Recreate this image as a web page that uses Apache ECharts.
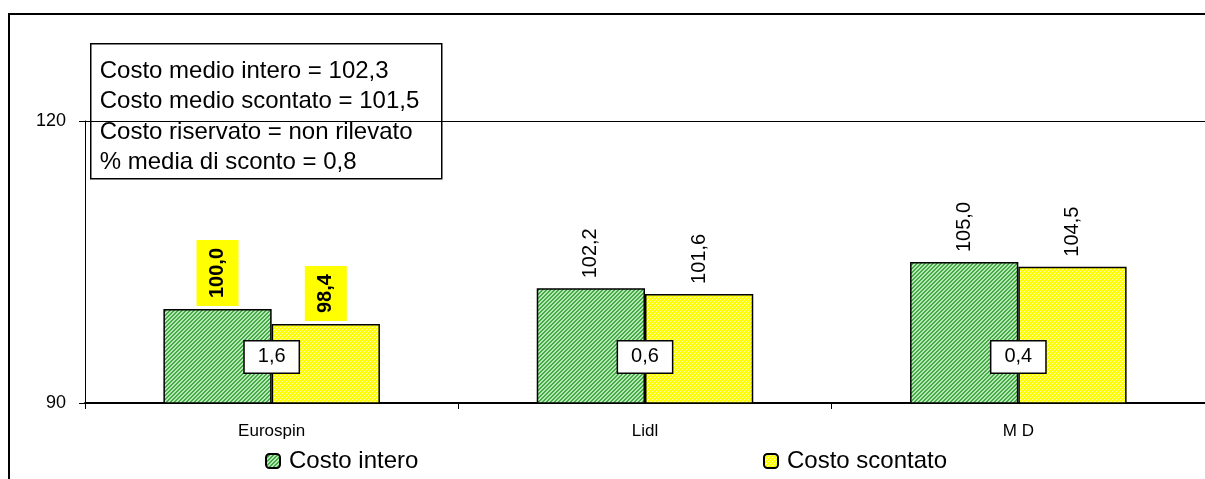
<!DOCTYPE html>
<html>
<head>
<meta charset="utf-8">
<script src="https://cdn.jsdelivr.net/npm/echarts@6/dist/echarts.min.js"></script>
<style>
html,body{margin:0;padding:0;background:#fff;}
#c{width:1205px;height:479px;}
</style>
</head>
<body>
<div id="c"></div>
<script>
// ---- data ----
const categories = ['Eurospin', 'Lidl', 'M D'];
const costoIntero = [100.0, 102.2, 105.0];
const costoScontato = [98.4, 101.6, 104.5];
const scontoPerc = [1.6, 0.6, 0.4];
const highlightIndex = 0; // cheapest store highlighted
const yTicks = [90, 120];
const infoLines = [
  'Costo medio intero = 102,3',
  'Costo medio scontato = 101,5',
  'Costo riservato = non rilevato',
  '% media di sconto = 0,8'
];
const seriesNames = ['Costo intero', 'Costo scontato'];

const FONT = '"Liberation Sans", Arial, sans-serif';
const fmt = v => v.toFixed(1).replace('.', ',');

function makePattern(bg, fg, n) {
  const c = document.createElement('canvas');
  c.width = 4; c.height = 4;
  const ctx = c.getContext('2d');
  ctx.fillStyle = bg; ctx.fillRect(0, 0, 4, 4);
  ctx.fillStyle = fg;
  for (let i = 0; i < 4; i++) {
    for (let k = 0; k < n; k++) ctx.fillRect((3 - i + k + 4) % 4, i, 1, 1);
  }
  return c;
}
const greenPat = { image: makePattern('#b8e8b8', '#44aa44', 2), repeat: 'repeat' };
const yellowPat = { image: makePattern('#ffff00', '#ffffb0', 1), repeat: 'repeat' };

const baseLabel = {
  show: true, position: 'top', rotate: 90, align: 'left', verticalAlign: 'middle',
  distance: 10, fontFamily: FONT, fontSize: 20, color: '#000',
  formatter: p => fmt(p.value)
};
const hlLabel = {
  fontWeight: 'bold', backgroundColor: '#ffff00', padding: [11, 8], distance: 3
};
function buildData(vals) {
  return vals.map((v, i) => i === highlightIndex ? { value: v, label: hlLabel } : v);
}

const chart = echarts.init(document.getElementById('c'), null, { renderer: 'canvas' });
chart.setOption({
  animation: false,
  grid: { left: 85, right: -5, top: 121, bottom: 76 },
  xAxis: {
    type: 'category', data: categories,
    axisLine: { lineStyle: { color: '#000', width: 2 } },
    axisTick: { show: true, length: 6, lineStyle: { color: '#000', width: 1 } },
    axisLabel: { fontFamily: FONT, fontSize: 17, color: '#000', margin: 20 }
  },
  yAxis: {
    type: 'value', min: yTicks[0], max: yTicks[yTicks.length - 1], interval: yTicks[1] - yTicks[0],
    axisLine: { show: true, lineStyle: { color: '#000', width: 1 } },
    axisTick: { show: true, length: 6, lineStyle: { color: '#000' } },
    axisLabel: { fontFamily: FONT, fontSize: 18, color: '#000', margin: 19 },
    splitLine: { show: true, lineStyle: { color: '#000', width: 1 } }
  },
  legend: [
    { data: [seriesNames[0]], left: 265, top: 449, padding: 0, itemWidth: 14, itemHeight: 14, itemGap: 0,
      textStyle: { fontFamily: FONT, fontSize: 24, color: '#000', padding: [0, 0, 0, 4] } },
    { data: [seriesNames[1]], left: 763, top: 449, padding: 0, itemWidth: 14, itemHeight: 14, itemGap: 0,
      textStyle: { fontFamily: FONT, fontSize: 24, color: '#000', padding: [0, 0, 0, 4] } }
  ],
  series: [
    {
      name: seriesNames[0], type: 'bar', data: buildData(costoIntero),
      barGap: '0%', barCategoryGap: '42%',
      itemStyle: { color: greenPat, borderColor: '#000', borderWidth: 1.5 },
      label: baseLabel
    },
    {
      name: seriesNames[1], type: 'bar', data: buildData(costoScontato),
      itemStyle: { color: yellowPat, borderColor: '#000', borderWidth: 1.5 },
      label: baseLabel
    },
    {
      name: 'sconto', type: 'scatter', symbolSize: 0, z: 10,
      itemStyle: { opacity: 1 },
      data: scontoPerc.map((v, i) => ({ value: [i, 94.9], sconto: v })),
      label: {
        show: true, position: 'inside', fontFamily: FONT, fontSize: 20, color: '#000',
        backgroundColor: '#fff', borderColor: '#000', borderWidth: 1.5, padding: [6, 13, 5, 13],
        formatter: p => fmt(p.data.sconto)
      },
      emphasis: { disabled: true }, silent: true
    }
  ],
  graphic: [
    { type: 'rect', z: -10, shape: { x: 9, y: 14, width: 1220, height: 480 },
      style: { fill: 'none', stroke: '#000', lineWidth: 2 } },
    { type: 'group', left: 90, top: 43, z: 100, children: [
      { type: 'rect', shape: { x: 0, y: 0, width: 351, height: 135 },
        style: { fill: '#fff', stroke: '#000', lineWidth: 1.5 } },
      { type: 'text', left: 9, top: 12,
        style: { text: infoLines.join('\n'), font: '24px ' + FONT, fill: '#000', lineHeight: 30.5 } }
    ] }
  ]
});
</script>
</body>
</html>
